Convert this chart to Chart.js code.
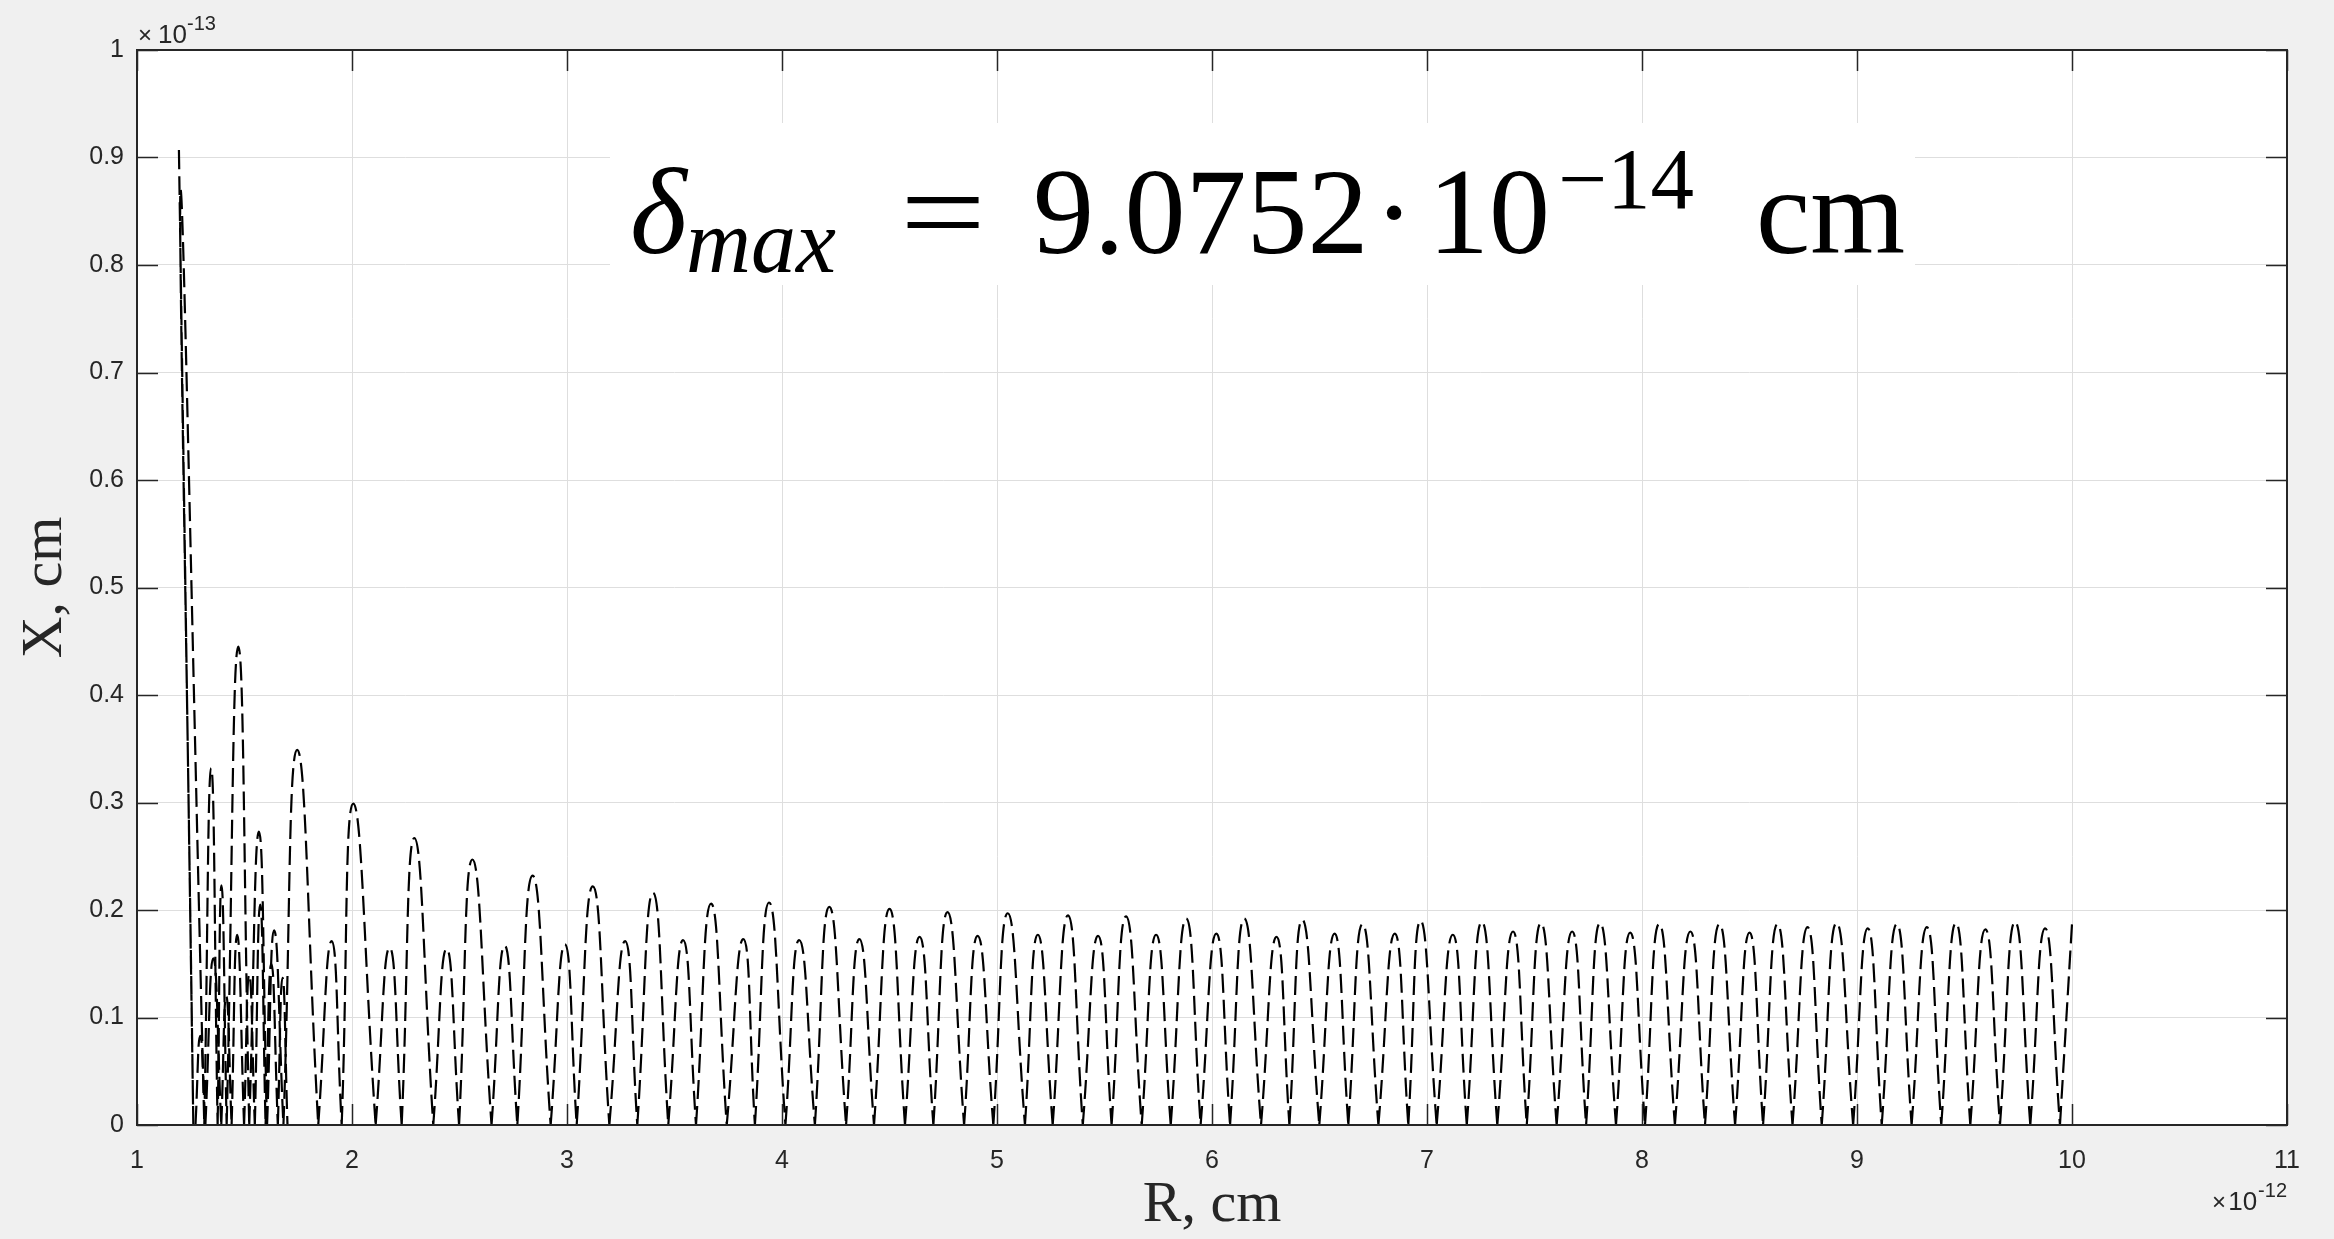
<!DOCTYPE html>
<html>
<head>
<meta charset="utf-8">
<script src="https://cdn.jsdelivr.net/npm/chart.js@4.4.1/dist/chart.umd.min.js"></script>
<style>
  html, body { margin: 0; padding: 0; background: #f0f0f0; }
  #plot { display: block; }
</style>
</head>
<body>
<canvas id="plot" width="2334" height="1239"></canvas>
<script>
// R is in units of 1e-12 cm, X in units of 1e-13 cm

const R_START = 1.195, X_START = 0.907;
const R_END   = 10.0,  X_END   = 0.187;

// points where the curve touches zero
const ZERO_R = [
  1.262, 1.313, 1.375, 1.417, 1.522, 1.605, 1.681, 1.843, 1.952, 2.110,
  2.231, 2.378, 2.498, 2.649, 2.769, 2.924, 3.045, 3.197, 3.327, 3.471,
  3.600, 3.743, 3.874, 4.016, 4.153, 4.298, 4.428, 4.572, 4.704, 4.847,
  4.983, 5.130, 5.259, 5.399, 5.533, 5.673, 5.808, 5.947, 6.084, 6.228,
  6.360, 6.499, 6.634, 6.774, 6.913, 7.045, 7.185, 7.327, 7.464, 7.603,
  7.740, 7.879, 8.014, 8.153, 8.293, 8.433, 8.563, 8.700, 8.836, 8.982,
  9.115, 9.254, 9.392, 9.527, 9.665, 9.806, 9.944,
];

// tops of the arches between consecutive zeros
const PEAK_R = [
  1.203, 1.345, 1.393, 1.471, 1.567, 1.638, 1.745, 1.905, 2.006, 2.175,
  2.290, 2.440, 2.560, 2.710, 2.840, 2.990, 3.120, 3.270, 3.400, 3.540,
  3.670, 3.820, 3.940, 4.080, 4.220, 4.360, 4.500, 4.640, 4.770, 4.910,
  5.050, 5.190, 5.330, 5.470, 5.600, 5.740, 5.880, 6.020, 6.150, 6.300,
  6.420, 6.570, 6.700, 6.850, 6.970, 7.120, 7.255, 7.400, 7.530, 7.675,
  7.805, 7.945, 8.080, 8.225, 8.360, 8.500, 8.630, 8.770, 8.905, 9.050,
  9.185, 9.325, 9.460, 9.597, 9.735, 9.875,
];
const PEAK_X = [
  0.870, 0.332, 0.223, 0.445, 0.273, 0.181, 0.349, 0.171, 0.299, 0.165,
  0.267, 0.164, 0.247, 0.167, 0.232, 0.168, 0.222, 0.171, 0.216, 0.172,
  0.206, 0.173, 0.207, 0.172, 0.203, 0.173, 0.201, 0.175, 0.198, 0.176,
  0.197, 0.177, 0.195, 0.176, 0.194, 0.177, 0.192, 0.178, 0.192, 0.175,
  0.191, 0.178, 0.187, 0.178, 0.190, 0.177, 0.189, 0.180, 0.188, 0.180,
  0.188, 0.179, 0.187, 0.180, 0.187, 0.179, 0.187, 0.184, 0.188, 0.183,
  0.187, 0.184, 0.188, 0.182, 0.189, 0.183,
];

// the small overlapping arches near the start
const SIDE_ZERO_R = [1.272, 1.318, 1.392, 1.440, 1.498, 1.548, 1.598, 1.655, 1.700];
const SIDE_PEAK_R = [1.294, 1.355, 1.415, 1.466, 1.522, 1.573, 1.625, 1.677];
const SIDE_PEAK_X = [0.083, 0.155, 0.120, 0.177, 0.140, 0.205, 0.150, 0.137];

const R_TICKS = [1, 2, 3, 4, 5, 6, 7, 8, 9, 10, 11];
const X_TICKS = [0, 0.1, 0.2, 0.3, 0.4, 0.5, 0.6, 0.7, 0.8, 0.9, 1];
const R_TICK_LABELS = ['1', '2', '3', '4', '5', '6', '7', '8', '9', '10', '11'];
const X_TICK_LABELS = ['0', '0.1', '0.2', '0.3', '0.4', '0.5', '0.6', '0.7', '0.8', '0.9', '1'];

const R_EXP = '-12';
const X_EXP = '-13';
const DELTA_MAX = '9.0752';
const DELTA_EXP = '\u221214';

const AXIS_COLOR = '#262626';
const GRID_COLOR = '#dedede';
const SANS  = '"Liberation Sans", Arial, sans-serif';
const SERIF = '"Liberation Serif", "Times New Roman", serif';

// every zero is a cusp, so the path is split there and each arch is its own piece
function arches(zeros, peakR, peakX, head, tail) {
  const pts = head ? [head] : [];
  zeros.forEach((r, i) => {
    if (i > 0 || head) pts.push({ x: r, y: 0 }, { x: r, y: null });
    pts.push({ x: r, y: 0 });
    if (i < peakR.length) pts.push({ x: peakR[i], y: peakX[i] });
  });
  if (tail) pts.push(tail);
  return pts;
}

const mainPath = arches(ZERO_R, PEAK_R, PEAK_X,
  { x: R_START, y: X_START }, { x: R_END, y: X_END });
const sidePath = arches(SIDE_ZERO_R, SIDE_PEAK_R, SIDE_PEAK_X);

const lineStyle = {
  borderColor: '#000',
  borderWidth: 2.2,
  borderDash: [19, 7],
  pointRadius: 0,
  tension: 0.5,
  spanGaps: false,
  fill: false,
};

const decorations = {
  id: 'decorations',
  beforeDraw(chart) {
    const { ctx, chartArea: a } = chart;
    ctx.save();
    ctx.fillStyle = '#fff';
    ctx.fillRect(a.left, a.top, a.right - a.left, a.bottom - a.top);
    ctx.restore();
  },
  afterDraw(chart) {
    const { ctx, chartArea: a, scales: { x, y } } = chart;
    const TICK = 21;
    ctx.save();

    // delta_max note on a white patch
    ctx.fillStyle = '#fff';
    ctx.fillRect(610, 123, 1305, 162);
    ctx.fillStyle = '#000';
    ctx.textBaseline = 'alphabetic';
    ctx.textAlign = 'left';
    ctx.font = 'italic 122px ' + SERIF;
    ctx.fillText('\u03b4', 630, 253);
    ctx.font = 'italic 90px ' + SERIF;
    ctx.fillText('max', 686, 272);
    ctx.font = '122px ' + SERIF;
    ctx.save();
    ctx.translate(943, 253);
    ctx.scale(1.25, 1);
    ctx.textAlign = 'center';
    ctx.fillText('=', 0, 0);
    ctx.restore();
    ctx.fillText(DELTA_MAX, 1033, 253);
    ctx.textAlign = 'center';
    ctx.fillText('\u00b7', 1394, 253);
    ctx.textAlign = 'left';
    ctx.fillText('10', 1428, 253);
    ctx.font = '87px ' + SERIF;
    ctx.fillText(DELTA_EXP, 1558, 208);
    ctx.font = '122px ' + SERIF;
    ctx.fillText('cm', 1756, 253);

    // inward tick marks on all four sides
    ctx.strokeStyle = AXIS_COLOR;
    ctx.lineWidth = 1.5;
    ctx.beginPath();
    R_TICKS.forEach(v => {
      const px = Math.round(x.getPixelForValue(v)) + 0.5;
      ctx.moveTo(px, a.bottom); ctx.lineTo(px, a.bottom - TICK);
      ctx.moveTo(px, a.top);    ctx.lineTo(px, a.top + TICK);
    });
    X_TICKS.forEach(v => {
      const py = Math.round(y.getPixelForValue(v)) + 0.5;
      ctx.moveTo(a.left, py);  ctx.lineTo(a.left + TICK, py);
      ctx.moveTo(a.right, py); ctx.lineTo(a.right - TICK, py);
    });
    ctx.stroke();

    // axes box
    ctx.lineWidth = 2;
    ctx.strokeRect(a.left, a.top, a.right - a.left, a.bottom - a.top);

    // axis titles
    ctx.fillStyle = AXIS_COLOR;
    ctx.font = '58px ' + SERIF;
    ctx.textAlign = 'center';
    ctx.fillText('R, cm', (a.left + a.right) / 2, 1221);
    ctx.save();
    ctx.translate(61, (a.top + a.bottom) / 2);
    ctx.rotate(-Math.PI / 2);
    ctx.fillText('X, cm', 0, 0);
    ctx.restore();

    // axis multipliers
    ctx.textAlign = 'left';
    ctx.font = '24px ' + SANS;
    ctx.fillText('\u00d7', a.left + 1, 43);
    ctx.font = '26px ' + SANS;
    ctx.fillText('10', a.left + 21, 43);
    ctx.font = '20px ' + SANS;
    ctx.fillText(X_EXP, a.left + 50, 30);

    ctx.textAlign = 'right';
    ctx.fillText(R_EXP, a.right, 1197);
    const expW = ctx.measureText(R_EXP).width;
    ctx.font = '26px ' + SANS;
    ctx.fillText('10', a.right - expW - 1, 1210);
    ctx.font = '24px ' + SANS;
    ctx.fillText('\u00d7', a.right - expW - 32, 1210);

    ctx.restore();
  },
};

new Chart(document.getElementById('plot'), {
  type: 'line',
  data: {
    datasets: [
      { data: mainPath, ...lineStyle },
      { data: sidePath, ...lineStyle },
    ],
  },
  options: {
    responsive: false,
    animation: false,
    devicePixelRatio: 1,
    layout: { padding: { top: 50, right: 47, left: 0, bottom: 0 } },
    plugins: { legend: { display: false }, tooltip: { enabled: false } },
    scales: {
      x: {
        type: 'linear',
        min: 1,
        max: 11,
        afterFit: s => { s.height = 114; },
        afterBuildTicks: s => { s.ticks = R_TICKS.map(v => ({ value: v })); },
        grid: { color: GRID_COLOR, lineWidth: 1, drawTicks: false },
        border: { display: false },
        ticks: {
          autoSkip: false,
          maxRotation: 0,
          padding: 21,
          color: AXIS_COLOR,
          font: { family: SANS, size: 25 },
          callback: (v, i) => R_TICK_LABELS[i],
        },
      },
      y: {
        type: 'linear',
        min: 0,
        max: 1,
        afterFit: s => { s.width = 137; },
        afterBuildTicks: s => { s.ticks = X_TICKS.map(v => ({ value: v })); },
        grid: { color: GRID_COLOR, lineWidth: 1, drawTicks: false },
        border: { display: false },
        ticks: {
          autoSkip: false,
          padding: 13,
          color: AXIS_COLOR,
          font: { family: SANS, size: 25 },
          callback: (v, i) => X_TICK_LABELS[i],
        },
      },
    },
  },
  plugins: [decorations],
});
</script>
</body>
</html>
